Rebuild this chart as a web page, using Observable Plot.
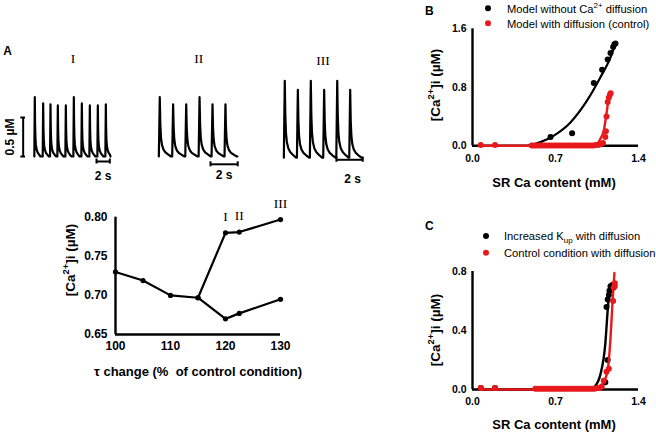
<!DOCTYPE html>
<html><head><meta charset="utf-8">
<script src="https://cdn.jsdelivr.net/npm/d3@7"></script>
<script src="https://cdn.jsdelivr.net/npm/@observablehq/plot@0.6"></script>
<style>
body{margin:0;background:#fff;}
#root{position:relative;width:656px;height:433px;overflow:hidden;background:#fff;font-family:"Liberation Sans",Arial,sans-serif;color:#000;}
.p{position:absolute;}
.p svg{display:block;}
</style></head>
<body><div id="root"></div>
<script>
// ---------- Panel A: Ca transients (µM vs s) ----------
const traceIPeakTimes = [0.645, 1.9, 3.0, 4.1, 5.3, 6.5, 7.7, 8.9, 10.1, 11.3];
const traceIPeaks = [0.86, 0.78, 0.77, 0.755, 0.755, 0.86, 0.78, 0.755, 0.755, 0.77];
const traceIIPeakTimes = [0.32, 1.32, 2.3, 3.3, 4.27, 5.24];
const traceIIPeaks = [0.86, 0.77, 0.77, 0.86, 0.77, 0.77];
const traceIIIPeakTimes = [0.32, 1.3, 2.27, 3.27, 4.25, 5.22];
const traceIIIPeaks = [1.07, 0.955, 1.07, 0.955, 1.07, 0.955];
const traceDiastolic = [0.1, 0.1, 0.085];
const traceEnd = [12.0, 6.14, 6.14];
const beatShapeTime = [-0.07, 0, 0.04, 0.09, 0.16, 0.27, 0.42, 0.62, 0.85];
const beatShapeFrac = [0, 1, 0.55, 0.32, 0.2, 0.12, 0.07, 0.035, 0.0];
const traceNames = ["I", "II", "III"];
const timeBarStart = [9.9, 4.12, 4.19];
const timeBarEnd = [11.9, 6.16, 6.16];
const timeBarLevel = [0.036, 0.0, 0.058];
const timeBarLabel = "2 s";
const ampBar = [0.1, 0.6];
const ampBarLabel = "0.5 µM";

// ---------- Panel A: peak [Ca2+]i vs tau change ----------
const tauUpper = [100, 105, 110, 115, 120, 122.5, 130];
const caUpper = [0.730, 0.719, 0.700, 0.697, 0.780, 0.781, 0.797];
const tauLower = [115, 120, 122.5, 130];
const caLower = [0.697, 0.670, 0.677, 0.695];
const romanTau = [120, 122.5, 130];
const romanCa = [0.780, 0.781, 0.797];
const tauTicks = [100, 110, 120, 130];
const caTicks = [0.65, 0.70, 0.75, 0.80];

// ---------- Panel B ----------
const bBlackX = [0.658, 0.84, 1.023, 1.093, 1.14, 1.164, 1.186, 1.197, 1.206];
const bBlackY = [0.12, 0.17, 0.86, 1.04, 1.18, 1.27, 1.35, 1.39, 1.40];
const bBlackFitX = [0.47, 0.573, 0.686, 0.826, 0.967, 1.08, 1.164, 1.206];
const bBlackFitY = [0, 0.05, 0.14, 0.32, 0.62, 0.94, 1.21, 1.40];
const bRedX = [0.07, 0.19, 0.50, 0.52, 0.54, 0.56, 0.58, 0.60, 0.62, 0.64, 0.66, 0.68, 0.70, 0.72, 0.74, 0.76, 0.78, 0.80, 0.82, 0.84, 0.86, 0.88, 0.90, 0.92, 0.94, 0.96, 0.98, 1.00, 1.02, 1.04, 1.06, 1.08, 1.10, 1.12, 1.125, 1.13, 1.14, 1.15, 1.16, 1.165];
const bRedY = [0.01, 0.01, 0.005, 0.005, 0.005, 0.005, 0.005, 0.005, 0.005, 0.005, 0.005, 0.005, 0.005, 0.005, 0.005, 0.005, 0.005, 0.005, 0.005, 0.005, 0.005, 0.005, 0.005, 0.005, 0.005, 0.005, 0.005, 0.005, 0.005, 0.01, 0.01, 0.02, 0.04, 0.12, 0.2, 0.4, 0.6, 0.66, 0.7, 0.72];
const bRedFitX = [0.07, 0.5, 1.0, 1.037, 1.08, 1.107, 1.13, 1.15, 1.165];
const bRedFitY = [0, 0, 0, 0.01, 0.1, 0.21, 0.44, 0.66, 0.73];
const bXTicks = [0, 0.7, 1.4];
const bYTicks = [0, 0.8, 1.6];

// ---------- Panel C ----------
const cBlackX = [0.07, 0.19, 1.12, 1.14, 1.13, 1.14, 1.15, 1.155, 1.164];
const cBlackY = [0.01, 0.01, 0.05, 0.2, 0.56, 0.61, 0.64, 0.67, 0.70];
const cBlackFitX = [0.07, 0.98, 1.03, 1.08, 1.12, 1.14, 1.158, 1.17];
const cBlackFitY = [0, 0, 0.02, 0.106, 0.31, 0.535, 0.69, 0.72];
const cRedX = [0.07, 0.19, 0.53, 0.55, 0.57, 0.59, 0.61, 0.63, 0.65, 0.67, 0.69, 0.71, 0.73, 0.75, 0.77, 0.79, 0.81, 0.83, 0.85, 0.87, 0.89, 0.91, 0.93, 0.95, 0.97, 0.99, 1.01, 1.03, 1.05, 1.07, 1.09, 1.107, 1.13, 1.15, 1.186, 1.19, 1.2, 1.2];
const cRedY = [0.01, 0.01, 0.005, 0.005, 0.005, 0.005, 0.005, 0.005, 0.005, 0.005, 0.005, 0.005, 0.005, 0.005, 0.005, 0.005, 0.005, 0.005, 0.005, 0.005, 0.005, 0.005, 0.005, 0.005, 0.005, 0.005, 0.005, 0.005, 0.01, 0.01, 0.02, 0.06, 0.12, 0.14, 0.6, 0.69, 0.7, 0.72];
const cRedFitX = [0.07, 1.0, 1.09, 1.14, 1.164, 1.18, 1.197];
const cRedFitY = [0, 0, 0.03, 0.13, 0.35, 0.58, 0.79];
const cYTicks = [0, 0.4, 0.8];

const RED = "#e8191c";
const SANS = "'Liberation Sans', Arial, sans-serif";
const SERIF = "'Liberation Serif', 'Times New Roman', serif";
const root = document.getElementById("root");
const baseStyle = {background: "transparent", overflow: "visible", fontFamily: SANS, color: "black"};
function mount(svg, left, top) {
  const d = document.createElement("div");
  d.className = "p"; d.style.left = left + "px"; d.style.top = top + "px";
  d.appendChild(svg); root.appendChild(d);
}
const zipXY = (xs, ys) => xs.map((x, i) => ({x, y: ys[i]}));

// ---------- traces ----------
function buildTrace(times, peaks, base, end) {
  const pts = [];
  times.forEach((tp, i) => {
    beatShapeTime.forEach((o, j) => {
      const t = tp + o;
      if (t <= end) pts.push({t, v: base + (peaks[i] - base) * beatShapeFrac[j]});
    });
  });
  pts.push({t: end, v: base});
  return pts;
}
const traceSets = [
  {times: traceIPeakTimes, peaks: traceIPeaks, left: 0, width: 130, ml: 20, mr: 20, domain: [-1.5, 12], labelDy: 15, labelDx: 0},
  {times: traceIIPeakTimes, peaks: traceIIPeaks, left: 140, width: 110, ml: 15, mr: 10.9, domain: [0, 6.3], labelDy: 11, labelDx: 0},
  {times: traceIIIPeakTimes, peaks: traceIIIPeaks, left: 265, width: 110, ml: 15, mr: 10.9, domain: [0, 6.3], labelDy: 19, labelDx: 3},
];
traceSets.forEach((s, k) => {
  const data = buildTrace(s.times, s.peaks, traceDiastolic[k], traceEnd[k]);
  const lvl = timeBarLevel[k];
  const marks = [
    Plot.line(data, {x: "t", y: "v", stroke: "black", strokeWidth: 2.2, strokeLinejoin: "round"}),
    Plot.ruleY([lvl], {x1: timeBarStart[k], x2: timeBarEnd[k], stroke: "black", strokeWidth: 2}),
    Plot.ruleX([timeBarStart[k], timeBarEnd[k]], {y1: lvl - 0.032, y2: lvl + 0.032, stroke: "black", strokeWidth: 2}),
    Plot.text([timeBarLabel], {x: (timeBarStart[k] + timeBarEnd[k]) / 2, y: lvl, dy: s.labelDy, dx: s.labelDx, fontSize: 12, fontWeight: "bold", fill: "black"})
  ];
  if (k === 0) {
    marks.push(
      Plot.ruleX([-1.1], {y1: ampBar[0], y2: ampBar[1], stroke: "black", strokeWidth: 2}),
      Plot.ruleY(ampBar, {x1: -1.45, x2: -0.75, stroke: "black", strokeWidth: 2})
    );
  }
  const svg = Plot.plot({
    width: s.width, height: 130,
    marginLeft: s.ml, marginRight: s.mr, marginTop: 10.2, marginBottom: 26.2,
    x: {domain: s.domain, axis: null},
    y: {domain: [0, 1.2], axis: null},
    style: baseStyle,
    marks
  });
  mount(svg, s.left, 60);
});

// ---------- tau plot ----------
{
  const svg = Plot.plot({
    width: 360, height: 200,
    marginLeft: 115, marginRight: 80, marginTop: 26.7, marginBottom: 56,
    x: {domain: [100, 130]},
    y: {domain: [0.65, 0.80]},
    style: baseStyle,
    marks: [
      Plot.axisX({ticks: tauTicks, tickSize: 0, tickPadding: 7, fontSize: 12, fontWeight: "bold", label: null}),
      Plot.axisY({ticks: caTicks, tickSize: 0, tickPadding: 8, tickFormat: d3.format(".2f"), fontSize: 12, fontWeight: "bold", label: null}),
      Plot.ruleX([100], {y1: 0.65, y2: 0.80, stroke: "black", strokeWidth: 2.4}),
      Plot.ruleY([0.65], {x1: 100, x2: 130, stroke: "black", strokeWidth: 2.4}),
      Plot.line(zipXY(tauUpper, caUpper), {x: "x", y: "y", stroke: "black", strokeWidth: 2.2}),
      Plot.line(zipXY(tauLower, caLower), {x: "x", y: "y", stroke: "black", strokeWidth: 2.2}),
      Plot.dot(zipXY(tauUpper, caUpper), {x: "x", y: "y", r: 2.6, fill: "black"}),
      Plot.dot(zipXY(tauLower, caLower), {x: "x", y: "y", r: 2.6, fill: "black"}),
      Plot.text(traceNames, {x: (d, i) => romanTau[i], y: (d, i) => romanCa[i], text: d => d, dy: -16, fontFamily: SERIF, fontSize: 13.5, fill: "black"})
    ]
  });
  mount(svg, 0, 190);
}

// ---------- Panel B ----------
{
  const svg = Plot.plot({
    width: 296, height: 200,
    marginLeft: 112, marginRight: 18, marginTop: 28.3, marginBottom: 54.7,
    x: {domain: [0, 1.4]},
    y: {domain: [0, 1.6]},
    style: baseStyle,
    marks: [
      Plot.axisX({ticks: bXTicks, tickSize: 0, tickPadding: 9, tickFormat: d3.format(".1f"), fontSize: 10.5, fontWeight: "bold", label: null}),
      Plot.axisY({ticks: bYTicks, tickSize: 0, tickPadding: 6, tickFormat: d3.format(".1f"), fontSize: 10.5, fontWeight: "bold", label: null}),
      Plot.ruleX([0], {y1: 0, y2: 1.6, stroke: "black", strokeWidth: 2.4}),
      Plot.ruleY([0], {x1: 0, x2: 1.4, stroke: "black", strokeWidth: 2.4}),
      Plot.line(zipXY(bBlackFitX, bBlackFitY), {x: "x", y: "y", stroke: "black", strokeWidth: 2.2, curve: "monotone-x"}),
      Plot.dot(zipXY(bBlackX, bBlackY), {x: "x", y: "y", r: 3, fill: "black"}),
      Plot.line(zipXY(bRedFitX, bRedFitY), {x: "x", y: "y", stroke: RED, strokeWidth: 2.4, curve: "monotone-x"}),
      Plot.dot(zipXY(bRedX, bRedY), {x: "x", y: "y", r: 3, fill: RED})
    ]
  });
  mount(svg, 360, 0);
}

// ---------- Panel C ----------
{
  const svg = Plot.plot({
    width: 296, height: 223,
    marginLeft: 112, marginRight: 18, marginTop: 61, marginBottom: 44,
    x: {domain: [0, 1.4]},
    y: {domain: [0, 0.8]},
    style: baseStyle,
    marks: [
      Plot.axisX({ticks: bXTicks, tickSize: 0, tickPadding: 8, tickFormat: d3.format(".1f"), fontSize: 10.5, fontWeight: "bold", label: null}),
      Plot.axisY({ticks: cYTicks, tickSize: 0, tickPadding: 6, tickFormat: d3.format(".1f"), fontSize: 10.5, fontWeight: "bold", label: null}),
      Plot.ruleX([0], {y1: 0, y2: 0.8, stroke: "black", strokeWidth: 2.4}),
      Plot.ruleY([0], {x1: 0, x2: 1.4, stroke: "black", strokeWidth: 2.4}),
      Plot.dot(zipXY(cBlackX, cBlackY), {x: "x", y: "y", r: 3, fill: "black"}),
      Plot.line(zipXY(cBlackFitX, cBlackFitY), {x: "x", y: "y", stroke: "black", strokeWidth: 2.4, curve: "monotone-x"}),
      Plot.dot(zipXY(cRedX, cRedY), {x: "x", y: "y", r: 3, fill: RED}),
      Plot.line(zipXY(cRedFitX, cRedFitY), {x: "x", y: "y", stroke: RED, strokeWidth: 2.4, curve: "monotone-x"})
    ]
  });
  mount(svg, 360, 210);
}

// ---------- Overlay text: panel letters, titles, axis labels, legends ----------
const ov = d3.create("svg").attr("width", 656).attr("height", 433)
  .style("position", "absolute").style("left", "0px").style("top", "0px")
  .style("overflow", "visible").attr("font-family", SANS).attr("fill", "black");

function plain(x, y, str, o = {}) {
  return ov.append("text").attr("x", x).attr("y", y)
    .attr("font-size", o.size || 12).attr("font-weight", o.weight || "normal")
    .attr("font-family", o.family || SANS).attr("text-anchor", o.anchor || "start")
    .attr("fill", o.fill || "black").style("white-space", "pre").text(str);
}
function caLabel(cx, cy, size) {
  const t = ov.append("text").attr("transform", `translate(${cx},${cy}) rotate(-90)`)
    .attr("text-anchor", "middle").attr("dominant-baseline", "central")
    .attr("font-size", size).attr("font-weight", "bold");
  t.append("tspan").text("[Ca");
  t.append("tspan").attr("font-size", size * 0.7).attr("dy", -size * 0.4).text("2+");
  t.append("tspan").attr("dy", size * 0.4).text("]i (µM)");
}

plain(3.3, 55, "A", {size: 12, weight: "bold"});
plain(425, 15, "B", {size: 12, weight: "bold"});
plain(425, 230, "C", {size: 12, weight: "bold"});

plain(73, 62.7, traceNames[0], {size: 13.5, family: SERIF, anchor: "middle"});
plain(198.8, 62.7, traceNames[1], {size: 13.5, family: SERIF, anchor: "middle"});
plain(323, 65, traceNames[2], {size: 13.5, family: SERIF, anchor: "middle"});

ov.append("text").attr("transform", "translate(10,137) rotate(-90)").attr("text-anchor", "middle")
  .attr("dominant-baseline", "central").attr("font-size", 12).attr("font-weight", "bold").text(ampBarLabel);

caLabel(70, 260, 13.5);
caLabel(435, 85, 13.5);
caLabel(435, 330, 13.5);

plain(198, 375.5, "τ change (%  of control condition)", {size: 13, weight: "bold", anchor: "middle"});
plain(554, 186.5, "SR Ca content (mM)", {size: 13, weight: "bold", anchor: "middle"});
plain(554, 428.5, "SR Ca content (mM)", {size: 13, weight: "bold", anchor: "middle"});

// legend B
ov.append("circle").attr("cx", 488).attr("cy", 8.3).attr("r", 3).attr("fill", "black");
ov.append("circle").attr("cx", 488).attr("cy", 23.3).attr("r", 3).attr("fill", RED);
{
  const t = ov.append("text").attr("x", 507).attr("y", 12.5).attr("font-size", 11.2);
  t.append("tspan").text("Model without Ca");
  t.append("tspan").attr("font-size", 8).attr("dy", -4.5).text("2+");
  t.append("tspan").attr("dy", 4.5).text(" diffusion");
}
plain(507, 27.5, "Model with diffusion (control)", {size: 11.2});

// legend C
ov.append("circle").attr("cx", 486).attr("cy", 236).attr("r", 3).attr("fill", "black");
ov.append("circle").attr("cx", 486).attr("cy", 252.7).attr("r", 3).attr("fill", RED);
{
  const t = ov.append("text").attr("x", 504).attr("y", 240).attr("font-size", 11.2);
  t.append("tspan").text("Increased K");
  t.append("tspan").attr("font-size", 8).attr("dy", 3).text("up");
  t.append("tspan").attr("dy", -3).text(" with diffusion");
}
plain(504, 256.5, "Control condition with diffusion", {size: 11.2});

root.appendChild(ov.node());
</script>
</body></html>
